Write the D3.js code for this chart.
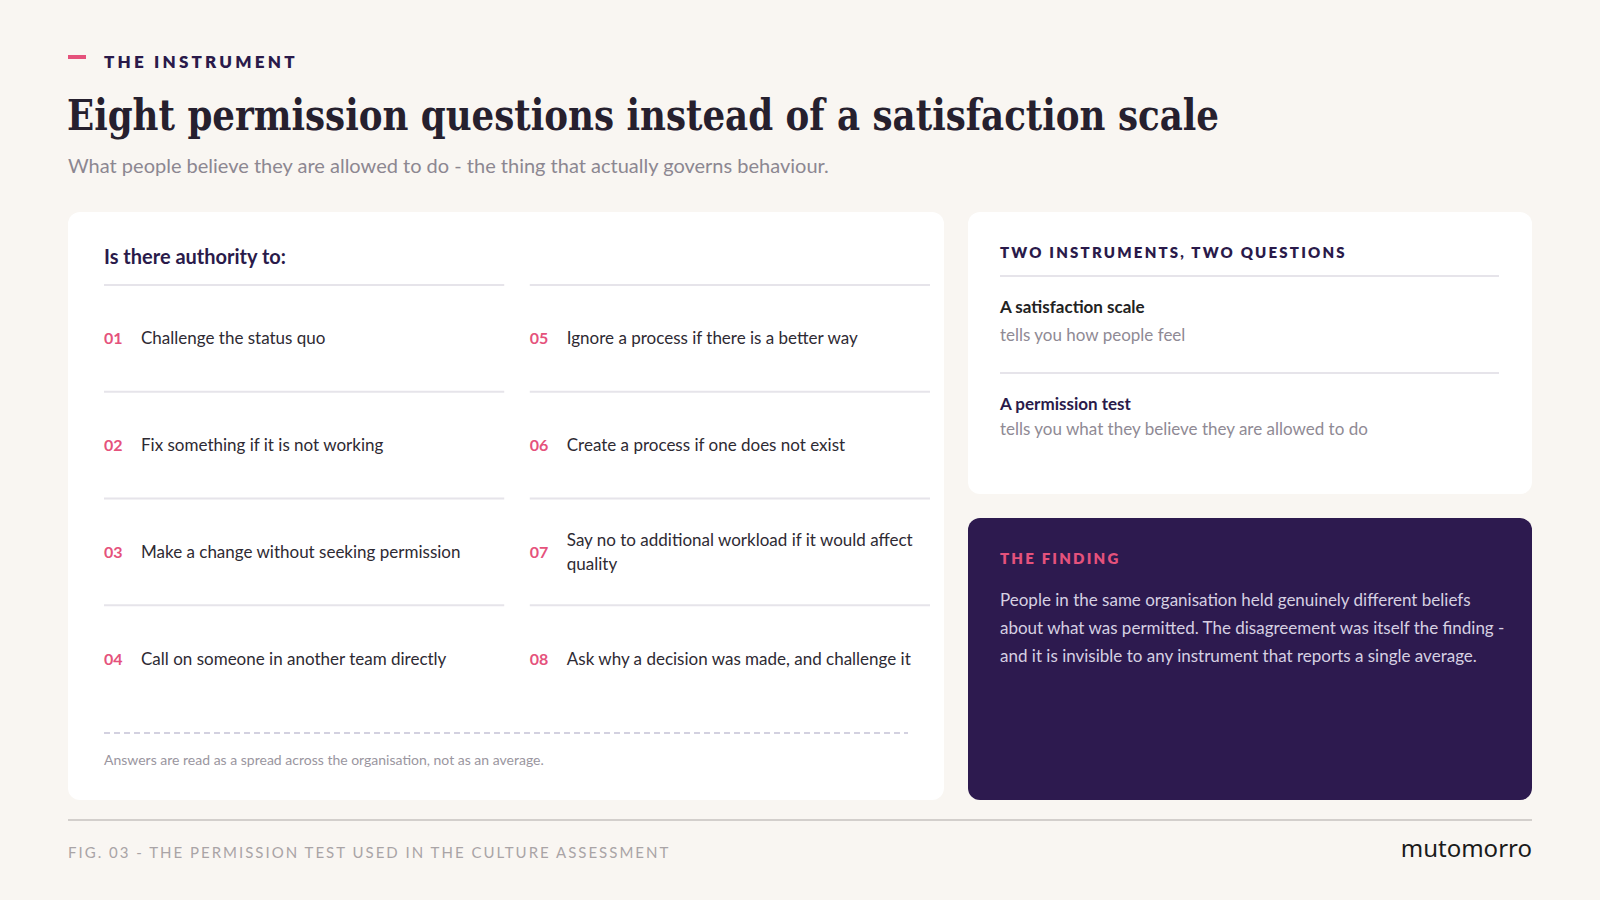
<!DOCTYPE html>
<html><head><meta charset="utf-8">
<script src="https://cdn.jsdelivr.net/npm/d3@7"></script>
<style>body{margin:0;background:#f9f6f2}svg{display:block}</style>
</head><body>
<svg id="chart" width="1600" height="900"></svg>
<script>
// the eight permission questions
const numbers = ["01","02","03","04","05","06","07","08"];
const questions = [
  ["Challenge the status quo"],
  ["Fix something if it is not working"],
  ["Make a change without seeking permission"],
  ["Call on someone in another team directly"],
  ["Ignore a process if there is a better way"],
  ["Create a process if one does not exist"],
  ["Say no to additional workload if it would affect", "quality"],
  ["Ask why a decision was made, and challenge it"]
];
const instruments = [
  {name: "A satisfaction scale", says: "tells you how people feel"},
  {name: "A permission test", says: "tells you what they believe they are allowed to do"}
];
const findingLines = [
  "People in the same organisation held genuinely different beliefs",
  "about what was permitted. The disagreement was itself the finding -",
  "and it is invisible to any instrument that reports a single average."
];

const sans = "Lato, 'Noto Sans', sans-serif";
const svg = d3.select("#chart");
const pink = "#e5527c", ink = "#2a1a4a", dark = "#2d1a4f";

// header
svg.append("rect").attr("x",68).attr("y",55).attr("width",18).attr("height",4).attr("fill",pink);
svg.append("text").attr("x",104).attr("y",68).text("THE INSTRUMENT")
  .attr("font-family",sans).attr("font-weight",800).attr("font-size",17).attr("letter-spacing",3.2).attr("fill",ink);
const title = svg.append("text").attr("x",67).attr("y",130).text("Eight permission questions instead of a satisfaction scale")
  .attr("font-family","'DejaVu Serif', serif").attr("font-weight",600).attr("font-size",42).attr("fill","#26202e");
title.attr("textLength",1152).attr("lengthAdjust","spacingAndGlyphs");
svg.append("text").attr("x",68).attr("y",173).text("What people believe they are allowed to do - the thing that actually governs behaviour.")
  .attr("font-family",sans).attr("font-size",20).attr("fill","#8c8791");

// cards
svg.append("rect").attr("x",68).attr("y",212).attr("width",876).attr("height",588).attr("rx",12).attr("fill","#fff");
svg.append("rect").attr("x",968).attr("y",212).attr("width",564).attr("height",282).attr("rx",12).attr("fill","#fff");
svg.append("rect").attr("x",968).attr("y",518).attr("width",564).attr("height",282).attr("rx",12).attr("fill",dark);

// question grid
svg.append("text").attr("x",104).attr("y",264).text("Is there authority to:")
  .attr("font-family",sans).attr("font-weight",700).attr("font-size",20).attr("fill",ink);
const col = d3.scaleBand().domain([0,1]).range([104,930]).paddingInner(0.06);
const row = d3.scaleLinear().domain([0,4]).range([285,712]);
const items = questions.map((q,i) => ({num:numbers[i], lines:q, c:Math.floor(i/4), r:i%4}));
const g = svg.append("g").selectAll("g").data(items).join("g")
  .attr("transform", d => `translate(${col(d.c)},${row(d.r)})`);
g.append("line").attr("x1",0).attr("x2",col.bandwidth()).attr("y1",0).attr("y2",0).attr("stroke","#e6e4ea").attr("stroke-width",2);
const mid = (row(1)-row(0))/2 + 6;
g.append("text").attr("y",mid).text(d=>d.num)
  .attr("font-family",sans).attr("font-weight",700).attr("font-size",16).attr("fill",pink);
g.append("text").attr("x",37).attr("y",d => mid - (d.lines.length-1)*12)
  .attr("font-family",sans).attr("font-size",17).attr("fill","#2e2a33")
  .selectAll("tspan").data(d=>d.lines).join("tspan").attr("x",37).attr("dy",(d,i)=>i?24:0).text(d=>d);
svg.append("line").attr("x1",104).attr("x2",908).attr("y1",733).attr("y2",733)
  .attr("stroke","#c5c2d6").attr("stroke-width",1.5).attr("stroke-dasharray","6,4");
svg.append("text").attr("x",104).attr("y",765).text("Answers are read as a spread across the organisation, not as an average.")
  .attr("font-family",sans).attr("font-size",14).attr("fill","#9a96a0");

// two instruments
svg.append("text").attr("x",1000).attr("y",258).text("TWO INSTRUMENTS, TWO QUESTIONS")
  .attr("font-family",sans).attr("font-weight",800).attr("font-size",15).attr("letter-spacing",2.2).attr("fill",ink);
const ig = svg.append("g").selectAll("g").data(instruments).join("g")
  .attr("transform",(d,i)=>`translate(1000,${276+i*97})`);
ig.append("line").attr("x2",499).attr("stroke","#e6e4ea").attr("stroke-width",2);
ig.append("text").attr("y",37).text(d=>d.name).attr("font-family",sans).attr("font-weight",700).attr("font-size",17).attr("fill",d=>d===instruments[1]?ink:"#222");
ig.append("text").attr("y",65).text(d=>d.says).attr("font-family",sans).attr("font-size",17).attr("fill","#8f8a94");
ig.filter((d,i)=>i===1).select("text:last-child").attr("y",62);

// finding
svg.append("text").attr("x",1000).attr("y",564).text("THE FINDING")
  .attr("font-family",sans).attr("font-weight",800).attr("font-size",15).attr("letter-spacing",2.2).attr("fill",pink);
svg.append("g").selectAll("text").data(findingLines).join("text")
  .attr("x",1000).attr("y",(d,i)=>606+i*28).text(d=>d)
  .attr("font-family",sans).attr("font-size",17).attr("fill","#d6d0e2");

// footer
svg.append("line").attr("x1",68).attr("x2",1532).attr("y1",820).attr("y2",820).attr("stroke","#d3cfcc").attr("stroke-width",2);
svg.append("text").attr("x",68).attr("y",858).text("FIG. 03 - THE PERMISSION TEST USED IN THE CULTURE ASSESSMENT")
  .attr("font-family",sans).attr("font-size",15).attr("letter-spacing",2).attr("fill","#a9a4a6");
svg.append("text").attr("x",1532).attr("y",857).attr("text-anchor","end").text("mutomorro")
  .attr("font-family","'Noto Sans', sans-serif").attr("font-size",24).attr("fill","#1a1a1a");
</script>
</body></html>
